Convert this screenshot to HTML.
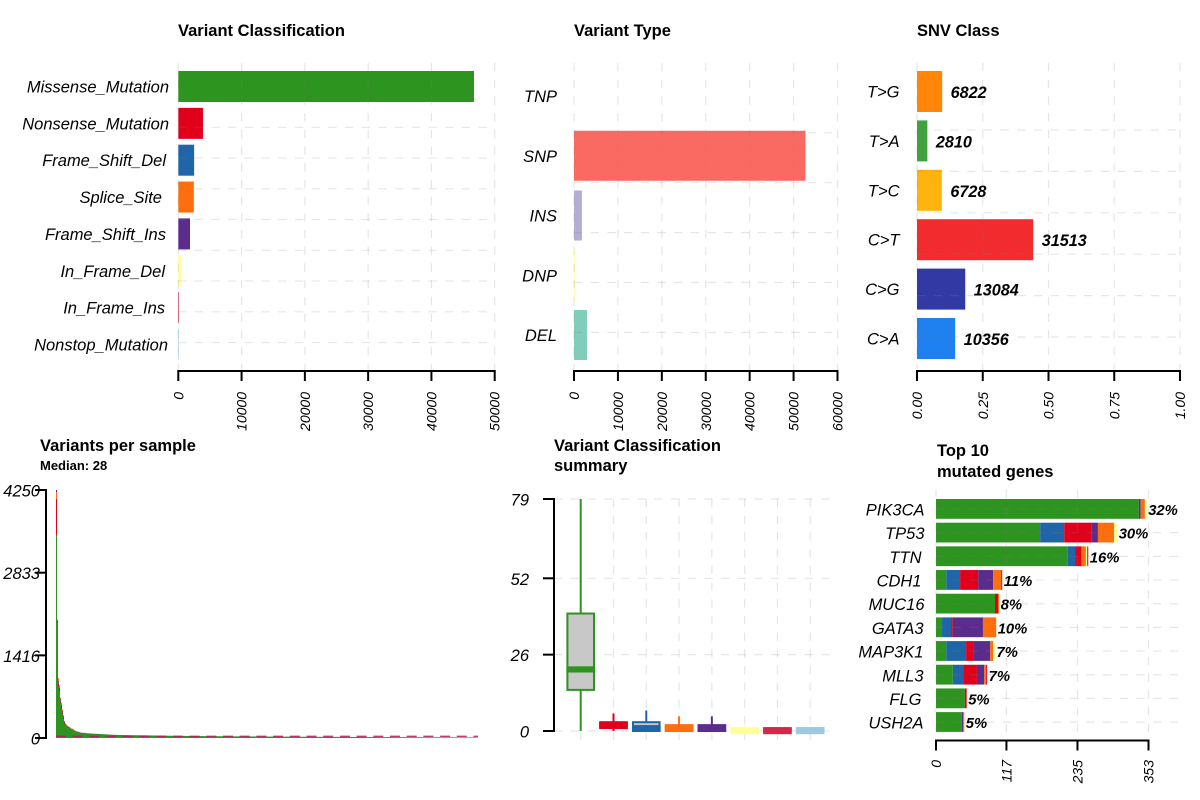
<!DOCTYPE html>
<html lang="en">
<head>
<meta charset="utf-8">
<title>MAF summary</title>
<style>
html,body{margin:0;padding:0;background:#fff;}
svg{display:block;font-family:"Liberation Sans",Arial,sans-serif;}
.title{font-weight:700;font-size:16.5px;fill:#000;}
.sub{font-weight:700;font-size:13px;fill:#000;}
.cat{font-style:italic;font-size:16.5px;fill:#000;}
.tick{font-style:italic;font-size:14px;fill:#000;}
.val{font-style:italic;font-weight:700;font-size:16.2px;fill:#000;}
.pct{font-style:italic;font-weight:700;font-size:14.8px;fill:#000;}
</style>
</head>
<body>
<svg id="chart" width="1200" height="800" viewBox="0 0 1200 800" xmlns="http://www.w3.org/2000/svg">
  <rect x="0" y="0" width="1200" height="800" fill="#fff"/>
  <text class="title" x="178" y="36">Variant Classification</text>
  <text class="title" x="574" y="36">Variant Type</text>
  <text class="title" x="917" y="36">SNV Class</text>
  <text class="title" x="40" y="451">Variants per sample</text>
  <text class="sub" x="40" y="470">Median: 28</text>
  <text class="title" x="554" y="451">Variant Classification</text>
  <text class="title" x="554" y="471">summary</text>
  <text class="title" x="937" y="456">Top 10</text>
  <text class="title" x="937" y="477">mutated genes</text>
  <g id="p1"></g>
  <g id="p2"></g>
  <g id="p3"></g>
  <g id="p4"></g>
  <g id="p5"></g>
  <g id="p6"></g>
</svg>
<script>
// ---- Panel 1: variant classification
const classNames = ["Missense_Mutation","Nonsense_Mutation","Frame_Shift_Del","Splice_Site","Frame_Shift_Ins","In_Frame_Del","In_Frame_Ins","Nonstop_Mutation"];
const classCounts = [46730,3900,2500,2450,1850,420,110,80];
const classColors = ["#2D9420","#E1001C","#1F65A8","#FF6E0C","#5A2D8C","#FFFF99","#D0294A","#9DC9E2"];
const classTicks = [0,10000,20000,30000,40000,50000];

// ---- Panel 2: variant type
const typeNames = ["TNP","SNP","INS","DNP","DEL"];
const typeCounts = [20,52700,1800,230,2950];
const typeColors = ["#FDB462","#FB6A62","#B3AED6","#FFFFB3","#80CDBA"];
const typeTicks = [0,10000,20000,30000,40000,50000,60000];

// ---- Panel 3: SNV class
const snvNames = ["T>G","T>A","T>C","C>T","C>G","C>A"];
const snvCounts = [6822,2810,6728,31513,13084,10356];
const snvColors = ["#FF8608","#41A33F","#FFB30F","#F22C2E","#3239A5","#1F80F0"];
const snvTicks = ["0.00","0.25","0.50","0.75","1.00"];

// ---- Panel 4: variants per sample (one entry per sample, sorted)
const sampleMissense = [
3480,1980,880,800,600,500,400,320,240,220,200,190,180,170,160,150,145,135,125,115,
110,105,100,95,90,88,86,85,84,83,82,81,80,79,78,77,76,75,74,73,
72,71,70,69,68,67,66,65,64,63,62,61,60,59,58,57,56,55,54,54,
53,53,52,52,52,51,51,51,50,50,50,50,49,49,49,49,48,48,48,48,
48,47,47,47,47,46,46,46,46,46,45,45,45,44,44,44,43,43,43,42,
42,42,42,41,41,41,41,40,40,40,40,39,39,39,39,38,38,38,38,38,
37,37,37,37,37,36,36,36,36,36,35,35,35,35,35,35,34,34,34,34,
34,34,33,33,33,33,33,33,32,32,32,32,32,32,32,31,31,31,31,31,
31,31,30,30,30,30,30,30,30,30,29,29,29,29,29,29,29,29,28,28,
28,28,28,28,28,28,27,27,27,27,27,27,27,27,27,26,26,26,26,26,
26,26,26,26,25,25,25,25,25,25,25,25,25,25,24,24,24,24,24,24,
24,24,24,24,23,23,23,23,23,23,23,23,23,23,23,22,22,22,22,22,
22,22,22,22,22,22,21,21,21,21,21,21,21,21,21,21,21,21,20,20,
20,20,20,20,20,20,20,20,20,20,19,19,19,19,19,19,19,19,19,19,
19,19,19,18,18,18,18,18,18,18,18,18,18,18,18,18,17,17,17,17,
17,17,17,17,17,17,17,17,17,16,16,16,16,16,16,16,16,16,16,16,
16,16,16,16,15,15,15,15,15,15,15,15,15,15,15,15,15,15,14,14,
14,14,14,14,14,14,14,14,14,14,14,14,14,13,13,13,13,13,13,13,
13,13,13,13,13,13,13,13,12,12,12,12,12,12,12,12,12,12,12,12,
12,12,12,12,11,11,11,11,11,11,11,11,11,11,11,11,11,11,11,11,
11,10,10,10,10,10,10,10,10,10,10,10,10,10,10,10,10,10,10,10,
9,9];
const sampleNonsense = [620,30,50,40,30,40,35,30,25,12,12,10,8,8,7,6,5,5,4,4,3,3,3,3,2,2,2,2,2,2];
const sampleFrameShift = [0,10,50,30,30,25,25,20,15,8,8,8,7,6,6,5,5,5,4,4,4,3,3,3,2,2,2,2,2,2];
const sampleSplice = [110,10,50,30,30,35,35,25,15,10,10,7,5,6,5,4,5,5,2,2,3,2,2,3,2,2,2,1,1,1];
const sampleFrameIns = [40,0,0,0,0,0,0,0,0,0];
const sampleTicks = [0,1416,2833,4250];

// ---- Panel 5: classification summary boxplots
const boxClasses = classNames;
const boxLow = [0,0,0,0,0,0,0,0];
const boxQ1 = [14,1,0,0,0,0,0,0];
const boxMedian = [21,2,1,1,1,0,0,0];
const boxQ3 = [40,3,3,2,2,1,1,1];
const boxHigh = [79,6,7,5,5,2,1,1];
const boxTicks = [0,26,52,79];

// ---- Panel 6: top genes
const geneNames = ["PIK3CA","TP53","TTN","CDH1","MUC16","GATA3","MAP3K1","MLL3","FLG","USH2A"];
const genePercents = ["32%","30%","16%","11%","8%","10%","7%","7%","5%","5%"];
const geneMissense = [337,173,219,17,98,10,17,28,48,43];
const geneFrameDel = [0,40,12,23,0,15,33,17,0,0];
const geneNonsense = [0,45,10,30,5,3,13,23,3,0];
const geneFrameIns = [3,11,1,25,0,50,27,12,0,2];
const geneSplice = [7,27,7,13,2,22,5,3,0,2];
const geneInFrameDel = [3,5,2,0,0,0,3,0,0,0];
const geneInFrameIns = [0,0,2,2,0,0,0,2,0,0];
const geneTicks = [0,117,235,353];

const NS = "http://www.w3.org/2000/svg";
const GRID = "rgba(128,128,128,0.2)";
function mk(parent, tag, attrs, txt) {
  const el = document.createElementNS(NS, tag);
  for (const k in attrs) el.setAttribute(k, attrs[k]);
  if (txt !== undefined) el.textContent = txt;
  parent.appendChild(el);
  return el;
}
function linear(d0, d1, r0, r1) {
  return function (v) { return r0 + (v - d0) / (d1 - d0) * (r1 - r0); };
}
function band(step, start) {
  return function (i) { return start + step * i; };
}
function gridLine(g, x1, y1, x2, y2) {
  const el = mk(g, "line", {x1:x1, y1:y1, x2:x2, y2:y2, stroke:GRID, "stroke-width":1.2, "stroke-dasharray":"8.3 8.4"});
  
  
}
function xAxis(g, ticks, scale, y, tickLen, labelY) {
  const axis = mk(g, "line", {x1:scale(+ticks[0]) - 1, x2:scale(+ticks[ticks.length-1]) + 1, y1:y, y2:y, stroke:"#000", "stroke-width":2});
  
  
  ticks.forEach(function (t) {
    const x = scale(+t);
    const tk = mk(g, "line", {x1:x, x2:x, y1:y, y2:y + tickLen, stroke:"#000", "stroke-width":2});
    
    
    const lb = mk(g, "text", {"class":"tick", "text-anchor":"end", transform:"translate(" + (x + 5) + "," + labelY + ") rotate(-90)"}, String(t));
    
    
  });
}
function yAxis(g, ticks, scale, x, x0, labelX) {
  const axis = mk(g, "line", {x1:x, x2:x, y1:scale(ticks[0]) + 1, y2:scale(ticks[ticks.length-1]) - 1, stroke:"#000", "stroke-width":2});
  
  
  ticks.forEach(function (t) {
    const y = scale(t);
    const tk = mk(g, "line", {x1:x0, x2:x, y1:y, y2:y, stroke:"#000", "stroke-width":2});
    
    
    const lb = mk(g, "text", {"class":"cat", x:labelX, y:y + 6.5, "text-anchor":"end"}, String(t));
    
    
  });
}
function catLabel(g, text, x, y) {
  const lb = mk(g, "text", {"class":"cat", x:x, y:y + 6, "text-anchor":"end"}, text);
  
  
}

(function drawClass() {
  const g = document.getElementById("p1");
  const x = linear(0, 50000, 178.3, 494.7);
  const y = band(36.85, 71);
  const labelEnds = [169,169,166,162,166,165,165,168];
  classCounts.forEach(function (v, i) {
    const b = mk(g, "rect", {x:x(0), y:y(i), width:x(v) - x(0), height:31, fill:classColors[i]});
    
    
    catLabel(g, classNames[i], labelEnds[i], y(i) + 15.5);
  });
  classTicks.forEach(function (t) { gridLine(g, x(t), 63, x(t), 371); });
  for (let k = 0; k < 8; k++) gridLine(g, 178, 127.3 + 30.75 * k, 487, 127.3 + 30.75 * k);
  xAxis(g, classTicks, x, 371, 10, 392);
})();

(function drawType() {
  const g = document.getElementById("p2");
  const x = linear(0, 60000, 574, 837.5);
  const y = band(59.75, 71);
  typeCounts.forEach(function (v, i) {
    const b = mk(g, "rect", {x:x(0), y:y(i), width:x(v) - x(0), height:50, fill:typeColors[i], "fill-opacity": i === 0 ? 0 : 1});
    
    
    catLabel(g, typeNames[i], 557, y(i) + 25);
  });
  typeTicks.forEach(function (t) { gridLine(g, x(t), 63, x(t), 371); });
  for (let k = 0; k < 5; k++) gridLine(g, 574, 132.8 + 49.9 * k, 832, 132.8 + 49.9 * k);
  xAxis(g, typeTicks, x, 371, 10, 392);
})();

(function drawSnv() {
  const g = document.getElementById("p3");
  const x = linear(0, 1, 917, 1180);
  const y = band(49.4, 71);
  const total = snvCounts.reduce(function (a, b) { return a + b; }, 0);
  snvCounts.forEach(function (v, i) {
    const b = mk(g, "rect", {x:x(0), y:y(i), width:x(v / total) - x(0), height:41, fill:snvColors[i]});
    
    
    catLabel(g, snvNames[i], 899.5, y(i) + 20.5);
    const t = mk(g, "text", {"class":"val", x:x(v / total) + 8.5, y:y(i) + 27}, String(v));
    
    
  });
  snvTicks.forEach(function (t) { gridLine(g, x(+t), 63, x(+t), 371); });
  for (let k = 0; k < 6; k++) gridLine(g, 917, 130 + 41.4 * k, 1180, 130 + 41.4 * k);
  xAxis(g, snvTicks, x, 371, 10, 392);
})();

(function drawSamples() {
  const g = document.getElementById("p4");
  const x = linear(0, sampleMissense.length, 56, 478);
  const y = linear(0, 4250, 738, 490);
  const stacks = [
    [sampleMissense, classColors[0]],
    [sampleNonsense, classColors[1]],
    [sampleFrameShift, classColors[2]],
    [sampleSplice, classColors[3]],
    [sampleFrameIns, classColors[4]]
  ];
  sampleMissense.forEach(function (_, i) {
    let acc = 0;
    stacks.forEach(function (s) {
      const v = s[0][i] || 0;
      if (v <= 0) return;
      const b = mk(g, "rect", {x:x(i), y:y(acc + v), width:x(i + 1) - x(i), height:y(acc) - y(acc + v), fill:s[1]});
      
      
      acc += v;
    });
  });
  const dash = mk(g, "line", {x1:x(0), x2:x(sampleMissense.length), y1:736.3, y2:736.3, stroke:"#B01C58", "stroke-width":1.4, "stroke-opacity":0.85, "stroke-dasharray":"10 6.7"});
  
  
  yAxis(g, sampleTicks, y, 46, 35, 40);
})();

(function drawBoxes() {
  const g = document.getElementById("p5");
  const y = linear(0, 79, 731, 499);
  const cx = band(32.79, 580.7);
  boxClasses.forEach(function (_, i) { gridLine(g, cx(i), 499, cx(i), 740); });
  boxTicks.forEach(function (t) { gridLine(g, 554, y(t), 830, y(t)); });
  boxClasses.forEach(function (name, i) {
    const c = classColors[i];
    const w = mk(g, "line", {x1:cx(i), x2:cx(i), y1:y(boxHigh[i]), y2:y(boxLow[i]), stroke:c, "stroke-width":2});
    
    
    const b = mk(g, "rect", {x:cx(i) - 13.3, y:y(boxQ3[i]), width:26.6, height:y(boxQ1[i]) - y(boxQ3[i]), fill:"#C8C8C8", stroke:c, "stroke-width":2});
    
    
    const top = y(boxMedian[i]) - 3;
    const m = mk(g, "rect", {x:cx(i) - 14.3, y:top, width:28.6, height:6.2, fill:c});
    
    
  });
  yAxis(g, boxTicks, y, 554, 543, 529);
})();

(function drawGenes() {
  const g = document.getElementById("p6");
  const x = linear(0, 353, 936, 1148.5);
  const y = band(23.68, 499);
  const stacks = [
    [geneMissense, classColors[0]],
    [geneFrameDel, classColors[2]],
    [geneNonsense, classColors[1]],
    [geneFrameIns, classColors[4]],
    [geneSplice, classColors[3]],
    [geneInFrameDel, classColors[5]],
    [geneInFrameIns, classColors[6]]
  ];
  const labelEnds = [924.5,924.5,921.5,921.5,924.5,923.5,923.5,923.5,921.5,923.5];
  geneNames.forEach(function (name, i) {
    let acc = 0;
    stacks.forEach(function (s) {
      const v = s[0][i];
      if (!v) return;
      const b = mk(g, "rect", {x:x(acc), y:y(i), width:x(acc + v) - x(acc), height:19.8, fill:s[1]});
      
      
      acc += v;
    });
    catLabel(g, name, labelEnds[i], y(i) + 10.5);
    const p = mk(g, "text", {"class":"pct", x:x(acc) + 1.5, y:y(i) + 16}, genePercents[i]);
    
    
  });
  geneTicks.forEach(function (t) { gridLine(g, x(t), 490, x(t), 740); });
  geneNames.forEach(function (_, i) { gridLine(g, 936, y(i) + 10, 1178, y(i) + 10); });
  xAxis(g, geneTicks, x, 740.5, 10, 760);
})();
</script>
</body>
</html>
